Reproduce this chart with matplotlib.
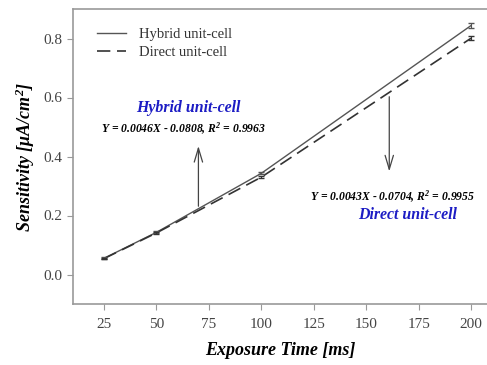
import matplotlib as mpl

mpl.use("Agg")

import matplotlib.pyplot as plt

IMAGE_DPI = 100.0

exposure = [25, 50, 100, 200]
hybrid = [0.055, 0.143, 0.343, 0.844]
hybrid_err = [0.003, 0.003, 0.004, 0.007]
direct = [0.054, 0.141, 0.330, 0.801]
direct_err = [0.003, 0.003, 0.004, 0.007]

x_ticks = [25, 50, 75, 100, 125, 150, 175, 200]
y_ticks = [0.0, 0.2, 0.4, 0.6, 0.8]

hybrid_eq = "Y = 0.0046X - 0.0808, R$^2$ = 0.9963"
direct_eq = "Y = 0.0043X - 0.0704, R$^2$ = 0.9955"

plt.rcParams["font.family"] = ["Liberation Serif", "DejaVu Serif"]
plt.rcParams["mathtext.fontset"] = "custom"
plt.rcParams["mathtext.rm"] = "Liberation Serif:bold:italic"
plt.rcParams["mathtext.it"] = "Liberation Serif:bold:italic"
plt.rcParams["mathtext.bf"] = "Liberation Serif:bold:italic"

fig = plt.figure(facecolor="white")
fig.set_size_inches(487 / IMAGE_DPI, 365 / IMAGE_DPI)

ax = fig.add_axes([73 / 487, 1 - 304 / 365, 1 - 73 / 487, (304 - 9) / 365])

ax.plot(exposure, hybrid, color="#555555", linewidth=1.0, linestyle="solid",
        label="Hybrid unit-cell")
ax.plot(exposure, direct, color="#333333", linewidth=1.2, dashes=(8, 4),
        label="Direct unit-cell")
ax.errorbar(exposure, hybrid, yerr=hybrid_err, fmt="none", ecolor="#555555",
            capsize=2.5, elinewidth=0.8)
ax.errorbar(exposure, direct, yerr=direct_err, fmt="none", ecolor="#333333",
            capsize=2.5, elinewidth=0.8)

ax.set_xlim(10.2, 207.6)
ax.set_ylim(-0.1, 0.9)
ax.set_xticks(x_ticks)
ax.set_yticks(y_ticks)
ax.set_yticklabels([f"{v:.1f}" for v in y_ticks])

for side in ["left", "bottom", "top"]:
    ax.spines[side].set_color("#999999")
    ax.spines[side].set_linewidth(1.2)
ax.spines["right"].set_visible(False)
ax.tick_params(direction="out", length=4, color="#999999", labelsize=11,
               labelcolor="#444444", pad=6)
ax.tick_params(axis="y", pad=4)

ax.set_xlabel("Exposure Time [ms]", fontsize=13, fontweight="bold",
              fontstyle="italic", labelpad=8)
ax.set_ylabel(r"Sensitivity [$\mu A/cm^2$]", fontsize=13, fontweight="bold",
              fontstyle="italic", labelpad=4)

ax.legend(loc="upper left", frameon=False, fontsize=10.5, handlelength=2.0,
          handletextpad=0.9, borderaxespad=0.9, labelspacing=0.3,
          bbox_to_anchor=(0.012, 1.0), labelcolor="#333333")

# arrows
ax.annotate("", xy=(70, 0.445), xytext=(70, 0.222),
            arrowprops=dict(arrowstyle="->,head_length=1.0,head_width=0.3",
                            color="#444444", linewidth=0.9))
ax.annotate("", xy=(161, 0.34), xytext=(161, 0.612),
            arrowprops=dict(arrowstyle="->,head_length=1.0,head_width=0.3",
                            color="#444444", linewidth=0.9))

ax.text(65, 0.563, "Hybrid unit-cell", color="#1c1cc4", fontsize=11.4,
        fontweight="bold", fontstyle="italic", ha="center", va="center")
ax.text(63, 0.495, hybrid_eq, color="black", fontsize=8.4,
        fontweight="bold", fontstyle="italic", ha="center", va="center")
ax.text(162.5, 0.264, direct_eq, color="black", fontsize=8.4,
        fontweight="bold", fontstyle="italic", ha="center", va="center")
ax.text(169.5, 0.203, "Direct unit-cell", color="#1c1cc4", fontsize=11.4,
        fontweight="bold", fontstyle="italic", ha="center", va="center")

fig.savefig("out.png", dpi=IMAGE_DPI)
